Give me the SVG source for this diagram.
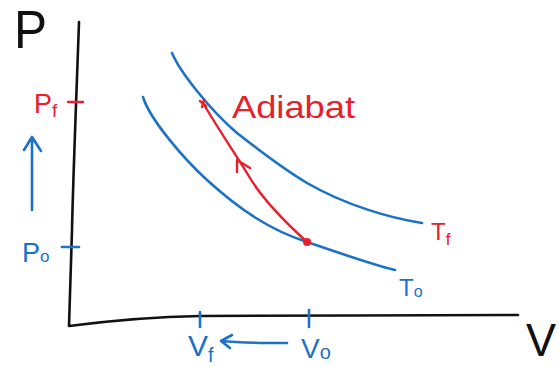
<svg xmlns="http://www.w3.org/2000/svg" width="559" height="367" viewBox="0 0 559 367">
<style>
.ax{fill:none;stroke:#111;stroke-width:2.6;stroke-linecap:round;stroke-linejoin:round}
.bl{fill:none;stroke:#1b72c6;stroke-width:2.6;stroke-linecap:round;stroke-linejoin:round}
.rd{fill:none;stroke:#e8202c;stroke-width:2.4;stroke-linecap:round;stroke-linejoin:round}
.t{font-family:"Liberation Sans","DejaVu Sans",sans-serif}
.tb{fill:#1b72c6}
.tr{fill:#e8202c}
.tk{fill:#111}
</style>
<rect width="559" height="367" fill="#fff"/>
<g id="axes">
<path class="ax" d="M79,22 C77,80 73,180 72,230 C71,270 70,300 69,326 C100,322 140,317 200,316 C300,315 420,316 518,315"/>
<text class="t tk" x="14" y="48" font-size="54" textLength="33" lengthAdjust="spacingAndGlyphs">P</text>
<text class="t tk" x="526" y="356" font-size="46" textLength="30" lengthAdjust="spacingAndGlyphs">V</text>
</g>
<g id="ticks">
<line class="rd" x1="68" y1="102" x2="83" y2="102"/>
<line class="bl" x1="62" y1="247" x2="79" y2="247"/>
<line class="bl" x1="200" y1="312" x2="200" y2="327"/>
<line class="bl" x1="309" y1="310" x2="309" y2="327"/>
</g>
<g id="axis-labels">
<text class="t tr" x="34" y="113" font-size="27">P<tspan font-size="19" dy="4">f</tspan></text>
<text class="t tb" x="22" y="262" font-size="27">P<tspan font-size="17" dy="0">o</tspan></text>
<text class="t tb" x="188" y="356" font-size="30">V<tspan font-size="20" dy="6">f</tspan></text>
<text class="t tb" x="301" y="358" font-size="28">V<tspan font-size="20" dy="1">o</tspan></text>
</g>
<g id="isotherm-T0">
<path class="bl" d="M143,97 C150,120 185,160 207,180 C240,210 270,230 307,242 C340,253 370,264 395,270"/>
<text class="t tb" x="399" y="296" font-size="24">T<tspan font-size="16" dy="1">o</tspan></text>
</g>
<g id="isotherm-Tf">
<path class="bl" d="M172,53 C180,72 210,110 237,133 C265,155 285,170 307,183 C345,205 390,218 422,223"/>
<text class="t tr" x="431" y="240" font-size="24">T<tspan font-size="17" dy="5">f</tspan></text>
</g>
<g id="adiabat">
<path class="rd" d="M307,242 C285,222 262,198 250,178 S222,135 203,103"/>
<circle cx="307" cy="242" r="4" fill="#e8202c"/>
<path class="rd" d="M200,101 L206,106 M204,100 L202,107"/>
<text class="t tr" x="232" y="118" font-size="32" textLength="123" lengthAdjust="spacingAndGlyphs">Adiabat</text>
</g>
<g id="connectors">
<path class="rd" d="M237,172 L237,160 L250,168"/>
<path class="bl" d="M32,210 L32,137 M24,150 L32,137 L41,151"/>
<path class="bl" d="M221,341 C240,343 265,343 287,343 M232,335 L221,341 L230,348"/>
</g>
</svg>
